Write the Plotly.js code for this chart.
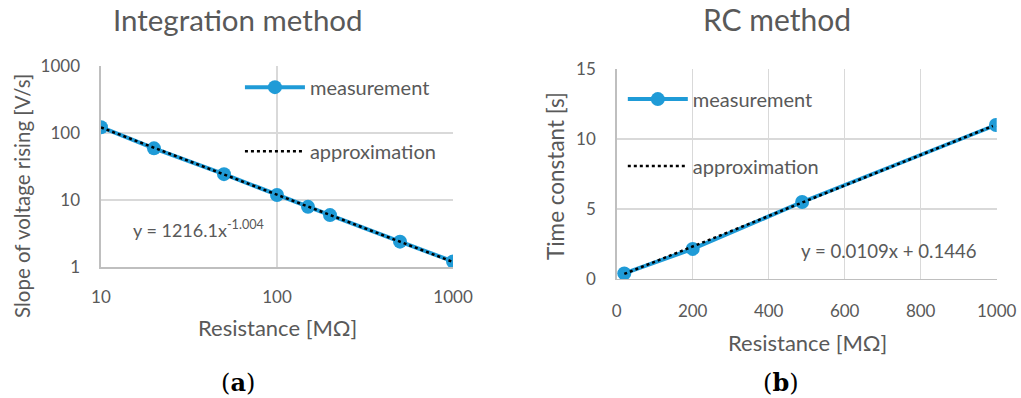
<!DOCTYPE html>
<html>
<head>
<meta charset="utf-8">
<script src="https://cdn.plot.ly/plotly-3.0.1.min.js"></script>
<style>html,body{margin:0;padding:0;background:#fff;}#chart{width:1021px;height:398px;}</style>
</head>
<body>
<div id="chart"></div>
<script>
// Panel (a): Integration method
const resA = [10, 20, 50, 100, 150, 200, 500, 1000];
const slopeA = [122, 59, 24.3, 11.9, 7.9, 5.95, 2.39, 1.21];
const approxResA = [10, 1000];
const approxSlopeA = [121, 1.19];
const xTicksA = [10, 100, 1000];
const yTicksA = [1, 10, 100, 1000];

// Panel (b): RC method
const resB = [20, 200, 488, 998];
const tauB = [0.4, 2.15, 5.5, 11.0];
const approxResB = [20, 990];
const approxTauB = [0.36, 10.93];
const xTicksB = [0, 200, 400, 600, 800, 1000];
const yTicksB = [0, 5, 10, 15];

const blue = '#1f9bd7';
const txt = '#595959';
const grid = '#d9d9d9';
const F = 'Lato, "Open Sans", sans-serif';

const traces = [
  {x: resA, y: slopeA, xaxis: 'x', yaxis: 'y', mode: 'lines+markers', name: 'measurement',
   line: {color: blue, width: 4}, marker: {color: blue, size: 14}, legend: 'legend', legendgroup: 'a1'},
  {x: approxResA, y: approxSlopeA, xaxis: 'x', yaxis: 'y', mode: 'lines', name: 'approximation',
   line: {color: '#000', width: 2.5, dash: 'dot'}, legend: 'legend', legendgroup: 'a2'},
  {x: resB, y: tauB, xaxis: 'x2', yaxis: 'y2', mode: 'lines+markers', name: 'measurement',
   line: {color: blue, width: 4}, marker: {color: blue, size: 14}, legend: 'legend2', legendgroup: 'b1'},
  {x: approxResB, y: approxTauB, xaxis: 'x2', yaxis: 'y2', mode: 'lines', name: 'approximation',
   line: {color: '#000', width: 2.5, dash: 'dot'}, legend: 'legend2', legendgroup: 'b2'}
];

const axCommon = {
  showgrid: true, gridcolor: grid, gridwidth: 1.3, zeroline: false,
  showline: true, linecolor: '#bfbfbf', linewidth: 1.5,
  ticks: 'outside', tickcolor: 'rgba(0,0,0,0)',
  tickfont: {family: F, size: 17, color: txt}, fixedrange: true
};

const legendCommon = {
  font: {family: F, size: 20, color: txt}, bgcolor: 'rgba(0,0,0,0)',
  traceorder: 'grouped', tracegroupgap: 35, itemwidth: 60,
  xanchor: 'left', yanchor: 'top'
};

const layout = {
  width: 1021, height: 398,
  margin: {l: 0, r: 0, t: 0, b: 0},
  paper_bgcolor: '#fff', plot_bgcolor: '#fff',
  showlegend: true,
  xaxis: Object.assign({}, axCommon, {type: 'log', range: [1, 3], tickvals: xTicksA, ticktext: xTicksA.map(String),
    domain: [0.0989, 0.4437], anchor: 'y', ticklen: 14}),
  yaxis: Object.assign({}, axCommon, {type: 'log', range: [0, 3], tickvals: yTicksA, ticktext: yTicksA.map(String),
    domain: [0.3291, 0.8342], anchor: 'x', ticklen: 16}),
  xaxis2: Object.assign({}, axCommon, {range: [0, 1000], tickvals: xTicksB,
    domain: [0.604, 0.9762], anchor: 'y2', ticklen: 16}),
  yaxis2: Object.assign({}, axCommon, {range: [0, 15], tickvals: yTicksB,
    domain: [0.299, 0.8266], anchor: 'x2', ticklen: 16}),
  legend: Object.assign({}, legendCommon, {x: 0.235, y: 0.83}),
  legend2: Object.assign({}, legendCommon, {x: 0.61, y: 0.80, tracegroupgap: 38}),
  annotations: [
    {text: 'Integration method', x: 238, y: 19, font: {family: F, size: 29.5, color: txt}},
    {text: 'RC method', x: 777, y: 19, font: {family: F, size: 30, color: txt}},
    {text: 'Resistance [MΩ]', x: 277, y: 327, font: {family: F, size: 22, color: txt}},
    {text: 'Resistance [MΩ]', x: 807, y: 342, font: {family: F, size: 22, color: txt}},
    {text: 'Slope of voltage rising [V/s]', x: 22, y: 196, textangle: -90, font: {family: F, size: 20.5, color: txt}},
    {text: 'Time constant [s]', x: 555, y: 176, textangle: -90, font: {family: F, size: 22.5, color: txt}},
    {text: 'y = 1216.1x<sup>-1.004</sup>', x: 198, y: 229, font: {family: F, size: 18, color: txt}},
    {text: 'y = 0.0109x + 0.1446', x: 889, y: 251, font: {family: F, size: 18.6, color: txt}},
    {text: '(<b>a</b>)', x: 238, y: 382, font: {family: '"DejaVu Serif", "Liberation Serif", serif', size: 24, color: '#000'}},
    {text: '(<b>b</b>)', x: 781, y: 382, font: {family: '"DejaVu Serif", "Liberation Serif", serif', size: 24, color: '#000'}}
  ].map(a => Object.assign({xref: 'paper', yref: 'paper', showarrow: false, xanchor: 'center', yanchor: 'middle'}, a,
      {x: a.x / 1021, y: 1 - a.y / 398}))
};

Plotly.newPlot('chart', traces, layout, {displayModeBar: false, staticPlot: true});
</script>
</body>
</html>
